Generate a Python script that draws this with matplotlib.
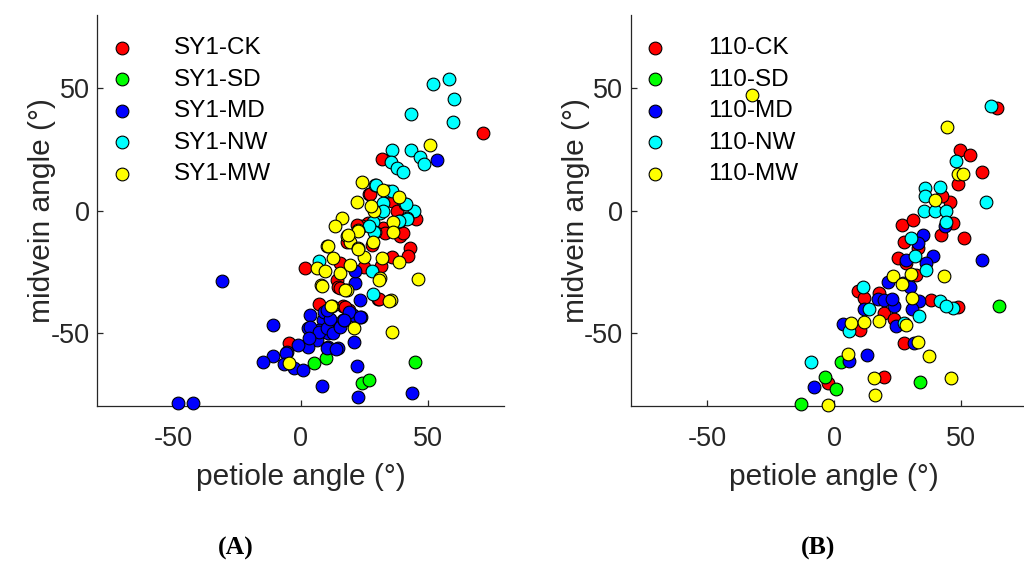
import matplotlib
matplotlib.use("Agg")
import matplotlib.pyplot as plt

plt.rcParams["font.family"] = ["Liberation Sans", "DejaVu Sans"]
plt.rcParams["axes.unicode_minus"] = False

groups_sy1 = ["SY1-CK", "SY1-SD", "SY1-MD", "SY1-NW", "SY1-MW"]
groups_110 = ["110-CK", "110-SD", "110-MD", "110-NW", "110-MW"]
colors = ["#ff0000", "#00ff00", "#0000ff", "#00ffff", "#ffff00"]

# panel A: (petiole angle, midvein angle) per group
sy1_ck = [(71.7, 31.8), (31.9, 21.3), (27, 7), (35.8, 3.8), (37.8, 0), (45.4, -3.3), (39.1, -10.5),
          (43, -15.3), (42.4, -18.4), (35.8, -18.7), (31.4, -22.5), (24.7, -22.8), (1.7, -23.2),
          (15.5, -21.4), (14.2, -28.2), (14.8, -31.2), (30.6, -36.2), (7.3, -38.1), (18.8, -40.5),
          (16.8, -38.9), (-4.5, -54.2), (26.6, -5), (32.5, -7.1), (24.3, -6.4), (27.3, 7.0),
          (40.4, -9.1), (33.2, -9.1), (22.3, -5.7), (18.1, -12.6), (30.9, -35.9), (17.4, -39.2),
          (15.5, -31.6), (28, -14)]
sy1_sd = [(5.2, -62.1), (10, -60.3), (24, -70.5), (27, -69.2), (45.1, -61.7)]
sy1_md = [(-31.1, -28.9), (-11, -46.7), (-48.2, -78.7), (-42.5, -78.4), (8.5, -71.6), (22.7, -76),
          (22, -63.4), (21, -53.5), (43.7, -74.6), (53.5, 20.9), (23.3, -36.4), (23.6, -43.3),
          (20.7, -42.6), (16.8, -44.6), (21.4, -29.6), (21.4, -24.8), (3.7, -42.6), (8.9, -44.6),
          (12.9, -46), (10.9, -50.1), (14.8, -56.2), (10.9, -55.8), (6.3, -52.8), (3, -55.5),
          (-0.9, -54.8), (-5.5, -57.6), (-11, -59.3), (-14.7, -61.7), (-2.6, -64.4), (0.7, -65.1),
          (3, -48), (7.2, -48.7), (9.2, -41.2), (-5.9, -58), (-6.5, -62.6), (10.5, -56.2),
          (13.9, -56.5), (3.7, -47.4), (7.3, -49.6), (10.2, -48), (12.8, -50.1), (11.5, -44.3),
          (15.5, -47.4), (17, -44.6), (10.2, -40.5), (3.4, -52.1), (19.1, -41.2), (17.2, -44.6),
          (23.3, -43.5)]
sy1_nw = [(52.2, 51.9), (58.5, 53.9), (60.5, 45.8), (43.3, 39.4), (59.8, 36.1), (36.1, 25),
          (43.3, 24.7), (47, 21.8), (35.6, 19.8), (48.7, 19.2), (37.8, 17.5), (40.4, 15.7),
          (29.3, 10.6), (32.5, 3.1), (31.2, -1), (41.1, 2.9), (44.4, 0.1), (41.7, -3), (39.1, -4),
          (28.6, -4.4), (29.3, -8.5), (7, -20.7), (28, -24.8), (28.3, -34), (34.5, 7.9),
          (29.6, 10.5), (35.9, 7.9), (32.3, 0.1), (42, -3.4), (38.8, -4), (28.9, -8.6), (27, -6.4),
          (41.5, 2.9)]
sy1_mw = [(24.3, 11.6), (22, 3.5), (16.4, -3), (13.5, -6.4), (29, 0.1), (32.5, 8.6), (38.5, 5.6),
          (50.7, 27), (36.5, -4.8), (36.5, -8.7), (22.4, -7.8), (18.1, -10.5), (19.4, -12.6),
          (22.7, -15.3), (28.3, -12.6), (24.7, -18.7), (32, -19.4), (38.5, -21.1), (10.5, -14.6),
          (12.6, -19.4), (6.3, -23.5), (9.7, -24.8), (15.5, -25.5), (19.4, -22.1), (31, -27.3),
          (7.9, -30.3), (18.4, -32.3), (35.4, -36.4), (46.3, -27.8), (12.2, -38.9), (35.8, -49.4),
          (21, -48), (-4.6, -62.3), (8.3, -30.6), (11.9, -38.9), (17.4, -32.3), (34.9, -36.7),
          (27.6, 2), (22.7, -8.1), (18.7, -10.1), (10.9, -14.6), (22.7, -15.7), (30.9, -28.2)]

# panel B
l10_ck = [(64.2, 42), (49.6, 25), (53.3, 22.9), (58.3, 15.8), (48.7, 11.1), (45.4, 3.5), (42.4, 6.1),
          (26.7, -5.7), (30.9, -3.7), (46.7, -5), (42.1, -9.8), (51, -11.2), (27.4, -12.6),
          (32.9, -15.3), (25, -19.4), (28.3, -21.4), (32.2, -26.3), (9.2, -33), (11.8, -35.5),
          (17.5, -33.7), (19.7, -41.6), (38.2, -36.4), (48.7, -39.2), (23.7, -44.3), (10.3, -48.9),
          (27.6, -54.2), (19.5, -68.1), (-2.6, -70.5)]
l10_sd = [(64.9, -38.9), (33.6, -69.8), (-3.7, -68.1), (0.7, -73), (2.6, -61.7), (-13.2, -79.1)]
l10_md = [(58.3, -20.1), (34.9, -9.8), (32.9, -13), (38.7, -18.3), (36.1, -21.4), (28.2, -20.1),
          (21.1, -29.3), (27, -29.6), (30, -31.2), (17.1, -36.1), (19.5, -36.4), (23.4, -38.9),
          (22.6, -36.1), (33.3, -36.8), (30.7, -40.2), (11.8, -40.2), (3.3, -46.2), (24.2, -47.3),
          (31.3, -53.9), (12.9, -58.9), (5.7, -61.4), (-7.9, -72.2), (43.4, -6.4)]
l10_nw = [(61.6, 42.7), (48, 20.2), (59.9, 3.4), (35.8, 9.3), (41.8, 9.9), (35.8, 5.9), (35.3, 0.1),
          (39.5, 0.1), (44.1, 0), (44.1, -4.4), (30.3, -11.2), (31.6, -18.4), (36, -24.4),
          (11.2, -31), (13.8, -40.2), (41.7, -36.8), (46.7, -39.8), (44.1, -38.9), (33.3, -43.2),
          (5.7, -49.1), (27.4, -45.7), (-9.2, -61.7)]
l10_mw = [(-32.2, 47.2), (44.5, 34.2), (48.7, 15.1), (50.7, 15.1), (39.5, 4.5), (43.2, -26.6),
          (23.3, -26.6), (30.3, -25.8), (26.6, -29.9), (30.7, -35.5), (6.6, -46), (11.6, -45.3),
          (17.8, -45), (28.3, -46.7), (32.9, -53.5), (5.3, -58.5), (37.2, -59.3), (15.5, -68.5),
          (16.1, -75.3), (45.8, -68.2), (-2.4, -79.4)]

panel_a = [sy1_ck, sy1_sd, sy1_md, sy1_nw, sy1_mw]
panel_b = [l10_ck, l10_sd, l10_md, l10_nw, l10_mw]

ink = "#262626"
fig = plt.figure(figsize=(10.24, 5.62), dpi=100)
ax_a = fig.add_axes([0.0952, 0.2767, 0.397, 0.6966])
ax_b = fig.add_axes([0.6162, 0.2767, 0.397, 0.6966])


def draw(ax, sets, names):
    for pts, name, col in zip(sets, names, colors):
        ax.scatter([p[0] for p in pts], [p[1] for p in pts], s=84, c=col, edgecolors="black",
                   linewidths=0.8, label=name, zorder=3, clip_on=False)
    ax.set_xlim(-80, 80)
    ax.set_ylim(-80, 80)
    ax.set_xticks([-50, 0, 50])
    ax.set_yticks([-50, 0, 50])
    for side in ["top", "right"]:
        ax.spines[side].set_visible(False)
    for side in ["left", "bottom"]:
        ax.spines[side].set_color(ink)
        ax.spines[side].set_linewidth(0.9)
    ax.tick_params(direction="in", length=4, width=0.9, color=ink, labelcolor=ink, labelsize=19.5)
    ax.tick_params(axis="x", pad=14)
    ax.tick_params(axis="y", pad=5.5)
    ax.set_xlabel("petiole angle (°)", fontsize=21.5, color=ink, labelpad=8)
    ax.set_ylabel("midvein angle (°)", fontsize=21.5, color=ink, labelpad=-4)
    ax.legend(loc="upper left", bbox_to_anchor=(0.0236, 0.943), frameon=False, fontsize=17.5,
              scatterpoints=1, handlelength=1.2, handletextpad=1.56, labelspacing=0.39,
              borderpad=0, borderaxespad=0)


draw(ax_a, panel_a, groups_sy1)
draw(ax_b, panel_b, groups_110)

fig.text(236 / 1024, 1 - 548 / 562, "(A)", family="Liberation Serif", fontsize=18.5,
         fontweight="bold", ha="center", va="center")
fig.text(818 / 1024, 1 - 548 / 562, "(B)", family="Liberation Serif", fontsize=18.5,
         fontweight="bold", ha="center", va="center")

fig.savefig("out.png")
